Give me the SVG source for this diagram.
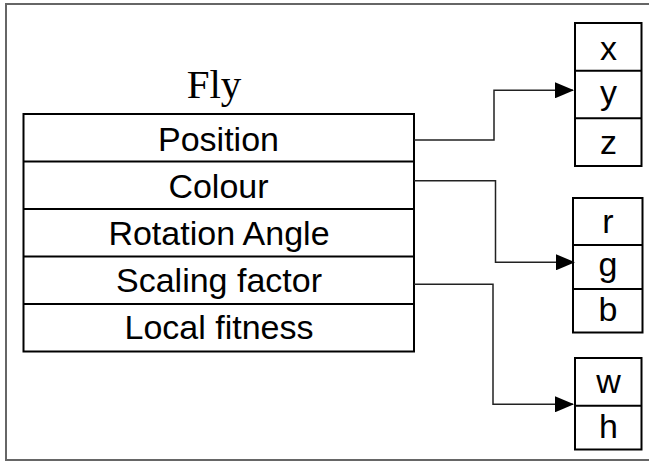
<svg xmlns="http://www.w3.org/2000/svg" width="649" height="463" viewBox="0 0 649 463">
<style>
.box{fill:#fff;stroke:#000;stroke-width:2}
.sep{stroke:#000;stroke-width:2}
.t{font-family:"Liberation Sans",Arial,sans-serif;font-size:34px;fill:#000;text-anchor:middle}
.title{font-family:"Liberation Serif","Times New Roman",serif;font-size:41px;fill:#000;text-anchor:middle}
.conn{fill:none;stroke:#222;stroke-width:1.5}
</style>
<defs>
<marker id="arr" markerUnits="userSpaceOnUse" markerWidth="19" markerHeight="16" refX="18" refY="8" orient="auto">
<path d="M0,0 L19,8 L0,16 Z" fill="#000"/>
</marker>
</defs>
<rect x="6" y="4" width="660" height="456" fill="#fff" stroke="#666" stroke-width="2"/>
<g id="fly">
<text class="title" x="214" y="98">Fly</text>
<rect class="box" x="23.5" y="114" width="390.5" height="237.5"/>
<line class="sep" x1="23.5" y1="161.5" x2="414" y2="161.5"/>
<line class="sep" x1="23.5" y1="209" x2="414" y2="209"/>
<line class="sep" x1="23.5" y1="256.5" x2="414" y2="256.5"/>
<line class="sep" x1="23.5" y1="304" x2="414" y2="304"/>
<text class="t" x="218.5" y="151">Position</text>
<text class="t" x="218.5" y="198">Colour</text>
<text class="t" x="219" y="245">Rotation Angle</text>
<text class="t" x="219" y="292">Scaling factor</text>
<text class="t" x="219" y="339">Local fitness</text>
</g>
<g id="xyz">
<rect class="box" x="575" y="23" width="66.5" height="143"/>
<line class="sep" x1="575" y1="70.7" x2="641.5" y2="70.7"/>
<line class="sep" x1="575" y1="118.3" x2="641.5" y2="118.3"/>
<text class="t" x="608.5" y="60">x</text>
<text class="t" x="608.5" y="104">y</text>
<text class="t" x="608.5" y="154">z</text>
</g>
<g id="rgb">
<rect class="box" x="573" y="198" width="69.5" height="134.5"/>
<line class="sep" x1="573" y1="245" x2="642.5" y2="245"/>
<line class="sep" x1="573" y1="289" x2="642.5" y2="289"/>
<text class="t" x="608" y="233">r</text>
<text class="t" x="608" y="276">g</text>
<text class="t" x="608" y="321">b</text>
</g>
<g id="wh">
<rect class="box" x="575" y="358" width="66.5" height="91.5"/>
<line class="sep" x1="575" y1="405.7" x2="641.5" y2="405.7"/>
<text class="t" x="608.5" y="393">w</text>
<text class="t" x="608.5" y="438">h</text>
</g>
<g id="connectors">
<path class="conn" d="M414,140 H494 V90.3 H573" marker-end="url(#arr)"/>
<path class="conn" d="M414,180.7 H495.5 V262.3 H574" marker-end="url(#arr)"/>
<path class="conn" d="M414,284.3 H493 V404.3 H573" marker-end="url(#arr)"/>
</g>
</svg>
